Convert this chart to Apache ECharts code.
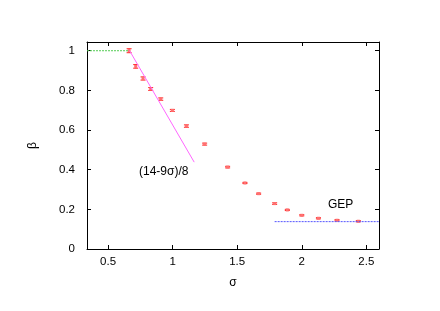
<!DOCTYPE html>
<html><head><meta charset="utf-8">
<script src="https://cdn.jsdelivr.net/npm/echarts@6/dist/echarts.min.js"></script>
<style>html,body{margin:0;padding:0;background:#fff}#c{width:440px;height:311px}</style>
</head><body><div id="c"></div>
<script>
const sigma = [0.663,0.714,0.771,0.830,0.908,0.998,1.107,1.248,1.426,1.560,1.666,1.790,1.888,2.000,2.129,2.273,2.438];
const beta  = [1.000,0.921,0.860,0.807,0.756,0.699,0.620,0.529,0.413,0.333,0.279,0.229,0.197,0.170,0.155,0.145,0.140];
const err   = [0.010,0.009,0.008,0.007,0.006,0.005,0.006,0.005,0.004,0.003,0.003,0.004,0.003,0.003,0.003,0.003,0.003];
const fitLine = [[0.667,1.0],[1.167,0.438]];
const gepLine = [[1.79,0.138],[2.6,0.138]];
const topLine = [[0.337,1.0],[0.663,1.0]];
const xTicks = [0.5,1,1.5,2,2.5];
const yTicks = [0,0.2,0.4,0.6,0.8,1];
const XMIN=0.337, XMAX=2.598, YMIN=0, YMAX=1.044;

const font = 'Liberation Sans, Arial, sans-serif';
const pts = sigma.map((s,i)=>[s,beta[i],err[i]]);
const chart = echarts.init(document.getElementById('c'));
function axisX(pos, show){
  return {type:'value', position:pos, min:XMIN, max:XMAX,
    axisLine:{show:true, onZero:false, lineStyle:{color:'#000',width:1}},
    splitLine:{show:false},
    axisTick:{show:true, inside:true, length:4, customValues:xTicks, lineStyle:{color:'#000'}},
    axisLabel:{show:show, customValues:xTicks, color:'#000', fontFamily:font, fontSize:11.5, margin:7,
      formatter:v=>String(v)},
    name: show?'σ':'', nameLocation:'middle', nameGap:28, nameTextStyle:{color:'#000',fontFamily:font,fontSize:12}};
}
function axisY(pos, show){
  return {type:'value', position:pos, min:YMIN, max:YMAX,
    axisLine:{show:true, onZero:false, lineStyle:{color:'#000',width:1}},
    splitLine:{show:false},
    axisTick:{show:true, inside:true, length:4, customValues:yTicks, lineStyle:{color:'#000'}},
    axisLabel:{show:show, customValues:yTicks, color:'#000', fontFamily:font, fontSize:11.5, margin:12,
      formatter:v=>String(v)},
    name: show?'β':'', nameLocation:'middle', nameGap:48, nameRotate:90, nameTextStyle:{color:'#000',fontFamily:font,fontSize:12}};
}
chart.setOption({
  animation:false,
  grid:{left:87,right:61,top:42,bottom:62},
  xAxis:[axisX('bottom',true), axisX('top',false)],
  yAxis:[axisY('left',true), axisY('right',false)],
  series:[
    {type:'line', data:topLine, symbol:'none', lineStyle:{color:'#55cc55',width:1,type:[2,1]}},
    {type:'line', data:fitLine, symbol:'none', lineStyle:{color:'#ff66ff',width:1}},
    {type:'line', data:gepLine, symbol:'none', lineStyle:{color:'#5555ff',width:1,type:[2,1]}},
    {type:'custom', data:pts, renderItem:function(params, api){
      const x=api.value(0), y=api.value(1), e=api.value(2);
      const p=api.coord([x,y]), lo=api.coord([x,y-e]), hi=api.coord([x,y+e]);
      const c='#ff2020', w=2.5;
      return {type:'group', children:[
        {type:'line', shape:{x1:p[0],y1:lo[1],x2:p[0],y2:hi[1]}, style:{stroke:c,lineWidth:1}},
        {type:'line', shape:{x1:p[0]-w,y1:lo[1],x2:p[0]+w,y2:lo[1]}, style:{stroke:c,lineWidth:1}},
        {type:'line', shape:{x1:p[0]-w,y1:hi[1],x2:p[0]+w,y2:hi[1]}, style:{stroke:c,lineWidth:1}},
        {type:'rect', shape:{x:p[0]-1.5,y:p[1]-1.5,width:3,height:3}, style:{fill:'#ff7070'}}
      ]};
    }}
  ],
  graphic:[
    {type:'text', left:139, top:166, style:{text:'(14-9σ)/8', fill:'#000', font:'12px '+font}},
    {type:'text', left:328, top:199, style:{text:'GEP', fill:'#000', font:'12px '+font}}
  ]
});
</script></body></html>
